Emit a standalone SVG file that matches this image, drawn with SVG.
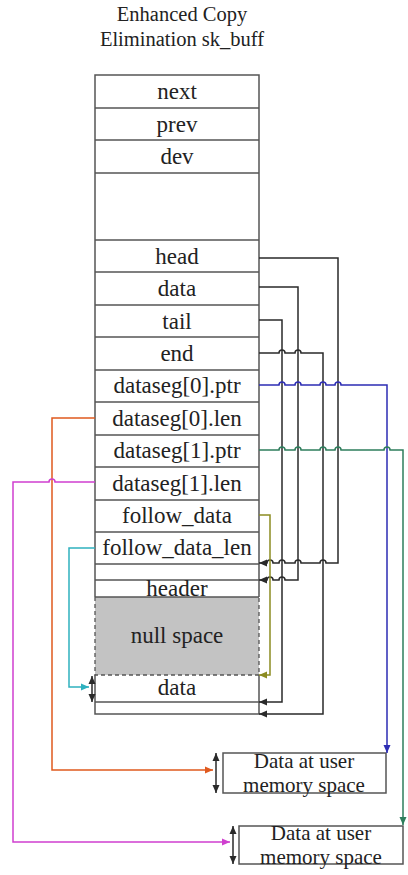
<svg xmlns="http://www.w3.org/2000/svg" width="408" height="875" viewBox="0 0 408 875">
  <style>
    text { font-family: "Liberation Serif", "Times New Roman", serif; fill: #222; text-anchor: middle; }
    .row { font-size: 23px; }
    .title { font-size: 20.5px; }
    .mem { font-size: 21px; }
    .frame { fill: none; stroke: #555; stroke-width: 1.5; }
    .sep { stroke: #555; stroke-width: 1.5; }
    .dash { fill: none; stroke: #555; stroke-width: 1.3; stroke-dasharray: 4 3; }
    .wire { fill: none; stroke-width: 1.5; stroke-linejoin: miter; }
    .k { stroke: #2a2a2a; }
    .blue { stroke: #2d2db4; }
    .green { stroke: #2e7d5c; }
    .orange { stroke: #e0591e; }
    .magenta { stroke: #cf3fcf; }
    .cyan { stroke: #2fb1bf; }
    .olive { stroke: #8c8c22; }
  </style>
  <defs>
    <marker id="ak" markerUnits="userSpaceOnUse" markerWidth="8" markerHeight="8" refX="8" refY="4" orient="auto-start-reverse"><path d="M0,0.5 L8,4 L0,7.5 z" fill="#2a2a2a"/></marker>
    <marker id="ab" markerUnits="userSpaceOnUse" markerWidth="8" markerHeight="8" refX="8" refY="4" orient="auto"><path d="M0,0.5 L8,4 L0,7.5 z" fill="#2d2db4"/></marker>
    <marker id="ag" markerUnits="userSpaceOnUse" markerWidth="8" markerHeight="8" refX="8" refY="4" orient="auto"><path d="M0,0.5 L8,4 L0,7.5 z" fill="#2e7d5c"/></marker>
    <marker id="ao" markerUnits="userSpaceOnUse" markerWidth="8" markerHeight="8" refX="8" refY="4" orient="auto"><path d="M0,0.5 L8,4 L0,7.5 z" fill="#e0591e"/></marker>
    <marker id="am" markerUnits="userSpaceOnUse" markerWidth="8" markerHeight="8" refX="8" refY="4" orient="auto"><path d="M0,0.5 L8,4 L0,7.5 z" fill="#cf3fcf"/></marker>
    <marker id="ac" markerUnits="userSpaceOnUse" markerWidth="8" markerHeight="8" refX="8" refY="4" orient="auto"><path d="M0,0.5 L8,4 L0,7.5 z" fill="#2fb1bf"/></marker>
    <marker id="al" markerUnits="userSpaceOnUse" markerWidth="8" markerHeight="8" refX="8" refY="4" orient="auto"><path d="M0,0.5 L8,4 L0,7.5 z" fill="#8c8c22"/></marker>
  </defs>

  <g id="title">
    <text class="title" x="182" y="21">Enhanced Copy</text>
    <text class="title" x="182" y="46">Elimination sk_buff</text>
  </g>

  <g id="sk_buff">
    <!-- payload area: reserved (null) space -->
    <rect x="95" y="597" width="164" height="78" fill="#c3c3c3"/>
    <!-- outer frame -->
    <path class="frame" d="M95,597 V75 H259 V597 M95,675 V714 H259 V675"/>
    <path class="dash" d="M95,597 V675 H259 V597"/>
    <!-- field separators -->
    <path class="sep" d="M95,108 H259 M95,140 H259 M95,173 H259 M95,240 H259 M95,272 H259 M95,305 H259 M95,337 H259 M95,370 H259 M95,402 H259 M95,435 H259 M95,467 H259 M95,500 H259 M95,532 H259 M95,564 H259 M95,580 H259 M95,597 H259 M95,702 H259"/>
    <g id="f-next"><text class="row" x="177" y="99">next</text></g>
    <g id="f-prev"><text class="row" x="177" y="132">prev</text></g>
    <g id="f-dev"><text class="row" x="177" y="164">dev</text></g>
    <g id="f-head"><text class="row" x="177" y="264">head</text></g>
    <g id="f-data"><text class="row" x="177" y="296">data</text></g>
    <g id="f-tail"><text class="row" x="177" y="329">tail</text></g>
    <g id="f-end"><text class="row" x="177" y="361">end</text></g>
    <g id="f-ds0ptr"><text class="row" x="177" y="393">dataseg[0].ptr</text></g>
    <g id="f-ds0len"><text class="row" x="177" y="426">dataseg[0].len</text></g>
    <g id="f-ds1ptr"><text class="row" x="177" y="458">dataseg[1].ptr</text></g>
    <g id="f-ds1len"><text class="row" x="177" y="491">dataseg[1].len</text></g>
    <g id="f-follow"><text class="row" x="177" y="523">follow_data</text></g>
    <g id="f-followlen"><text class="row" x="177" y="555">follow_data_len</text></g>
    <g id="b-header"><text class="row" x="177" y="596">header</text></g>
    <g id="b-null"><text class="row" x="177" y="643">null space</text></g>
    <g id="b-data"><text class="row" x="177" y="695">data</text></g>
  </g>

  <g id="user-mem-0">
    <rect class="frame" x="223" y="753" width="163" height="40"/>
    <text class="mem" x="304" y="768">Data at user</text>
    <text class="mem" x="304" y="792">memory space</text>
  </g>

  <g id="user-mem-1">
    <rect class="frame" x="239" y="826" width="164" height="38"/>
    <text class="mem" x="321" y="840">Data at user</text>
    <text class="mem" x="321" y="864">memory space</text>
  </g>

  <g id="connectors">
    <!-- head -> start of buffer -->
    <path class="wire k" marker-end="url(#ak)" d="M259,258 H338 V563 H326 a3,3 0 0 0 -6,0 H301 a3,3 0 0 0 -6,0 H285 a3,3 0 0 0 -6,0 H273 a3,3 0 0 0 -6,0 H259"/>
    <!-- data -> header start -->
    <path class="wire k" marker-end="url(#ak)" d="M259,287 H298 V580 H285 a3,3 0 0 0 -6,0 H273 a3,3 0 0 0 -6,0 H259"/>
    <!-- tail -> end of data -->
    <path class="wire k" marker-end="url(#ak)" d="M259,320 H282 V702 H259"/>
    <!-- end -> end of buffer -->
    <path class="wire k" marker-end="url(#ak)" d="M259,353 H279 a3,3 0 0 1 6,0 H295 a3,3 0 0 1 6,0 H323 V714 H259"/>
    <!-- dataseg[0].ptr -> user memory 0 -->
    <path class="wire blue" marker-end="url(#ab)" d="M259,385 H279 a3,3 0 0 1 6,0 H295 a3,3 0 0 1 6,0 H320 a3,3 0 0 1 6,0 H335 a3,3 0 0 1 6,0 H387 V753"/>
    <!-- dataseg[1].ptr -> user memory 1 -->
    <path class="wire green" marker-end="url(#ag)" d="M259,450 H279 a3,3 0 0 1 6,0 H295 a3,3 0 0 1 6,0 H320 a3,3 0 0 1 6,0 H335 a3,3 0 0 1 6,0 H384 a3,3 0 0 1 6,0 H403 V825"/>
    <!-- dataseg[0].len -> length of user memory 0 -->
    <path class="wire orange" marker-end="url(#ao)" d="M95,418 H52 V770 H213"/>
    <!-- dataseg[1].len -> length of user memory 1 -->
    <path class="wire magenta" marker-end="url(#am)" d="M95,482 H55 a3,3 0 0 0 -6,0 H13 V842 H230"/>
    <!-- follow_data -> appended data -->
    <path class="wire olive" marker-end="url(#al)" d="M259,515 H270 V675 H259"/>
    <!-- follow_data_len -> appended data length -->
    <path class="wire cyan" marker-end="url(#ac)" d="M95,548 H69 V687 H89"/>
    <!-- length spans -->
    <path class="wire k" marker-start="url(#ak)" marker-end="url(#ak)" d="M92,676 V702"/>
    <path class="wire k" marker-start="url(#ak)" marker-end="url(#ak)" d="M216,753 V793"/>
    <path class="wire k" marker-start="url(#ak)" marker-end="url(#ak)" d="M233,826 V864"/>
  </g>
</svg>
